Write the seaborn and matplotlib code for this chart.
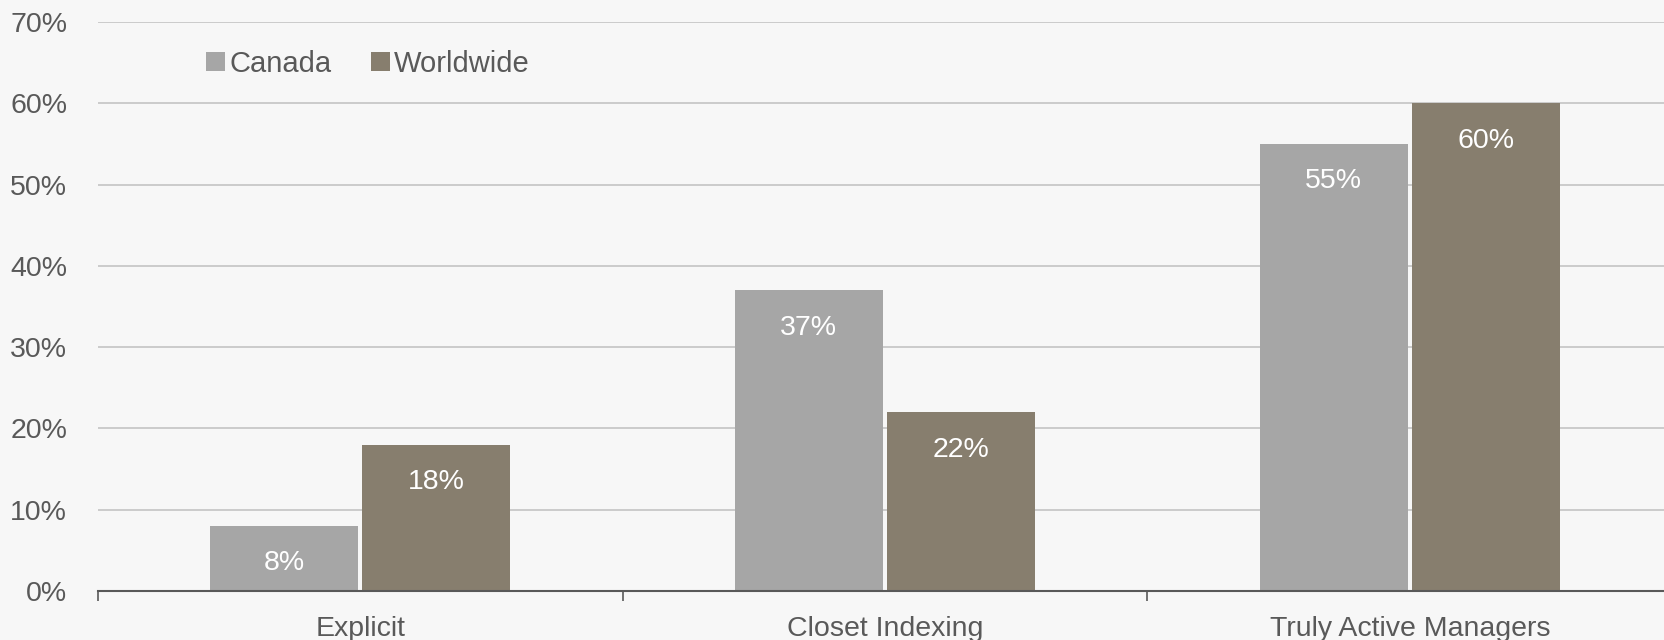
import matplotlib
matplotlib.use("Agg")
import matplotlib.pyplot as plt
import seaborn as sns
import pandas as pd
from matplotlib.patches import Patch
from matplotlib.ticker import FixedLocator, PercentFormatter

categories = ["Explicit", "Closet Indexing", "Truly Active Managers"]
canada = [8, 37, 55]
worldwide = [18, 22, 60]
series_names = ["Canada", "Worldwide"]
colors = ["#A6A6A6", "#877E6E"]

df = pd.DataFrame({
    "category": categories * 2,
    "region": [series_names[0]] * 3 + [series_names[1]] * 3,
    "value": canada + worldwide,
})

sns.set_theme(style="white")
plt.rcParams["font.family"] = ["Liberation Sans", "DejaVu Sans"]

bg = "#F7F7F7"
text_col = "#595959"

fig = plt.figure(figsize=(16.65, 6.4), dpi=100, facecolor=bg)
ax = fig.add_axes([0.0587, 0.0766, 0.9456, 0.889])
ax.set_facecolor(bg)

sns.barplot(data=df, x="category", y="value", hue="region", order=categories,
            hue_order=series_names, palette=colors, width=0.58, gap=0.026,
            linewidth=0, saturation=1, legend=False, ax=ax)

ax.set_ylim(0, 70)
ax.set_xlim(-0.5, 2.5)
ax.yaxis.set_major_locator(FixedLocator(range(0, 71, 10)))
ax.yaxis.set_major_formatter(PercentFormatter(decimals=0))
ax.grid(axis="y", color="#C8C8C8", linewidth=1.3)
ax.set_axisbelow(True)

# category boundaries carry the tick marks, centres carry the labels
ax.set_xticks([-0.5, 0.5, 1.5, 2.5])
ax.set_xticklabels([])
ax.set_xticks([0, 1, 2], minor=True)
ax.set_xticklabels(categories, minor=True)
ax.tick_params(axis="x", which="major", bottom=True, length=7, width=1.2,
               color="#595959", direction="out")
ax.tick_params(axis="x", which="minor", bottom=True, length=0, pad=18,
               labelsize=20.5, labelcolor=text_col)
ax.tick_params(axis="y", length=0, pad=22, labelsize=20.5, labelcolor=text_col)
ax.set_xlabel("")
ax.set_ylabel("")

for side in ["left", "right", "top"]:
    ax.spines[side].set_visible(False)
ax.spines["bottom"].set_color("#595959")
ax.spines["bottom"].set_linewidth(1.5)

# value labels inside the top of each bar
for container in ax.containers:
    for bar in container:
        h = bar.get_height()
        ax.annotate(f"{h:.0f}%", (bar.get_x() + bar.get_width() / 2, h),
                    xytext=(0, -27), textcoords="offset points",
                    ha="center", va="center", color="white", fontsize=20.5)

handles = [Patch(facecolor=c, edgecolor="none") for c in colors]
fig.legend(handles, series_names, loc="center left", bbox_to_anchor=(0.108, 0.900),
           frameon=False, fontsize=21, labelcolor=text_col, ncol=2,
           handlelength=0.65, handleheight=0.65, handletextpad=0.15, columnspacing=1.35)

fig.savefig("out.png", dpi=100, facecolor=bg)
